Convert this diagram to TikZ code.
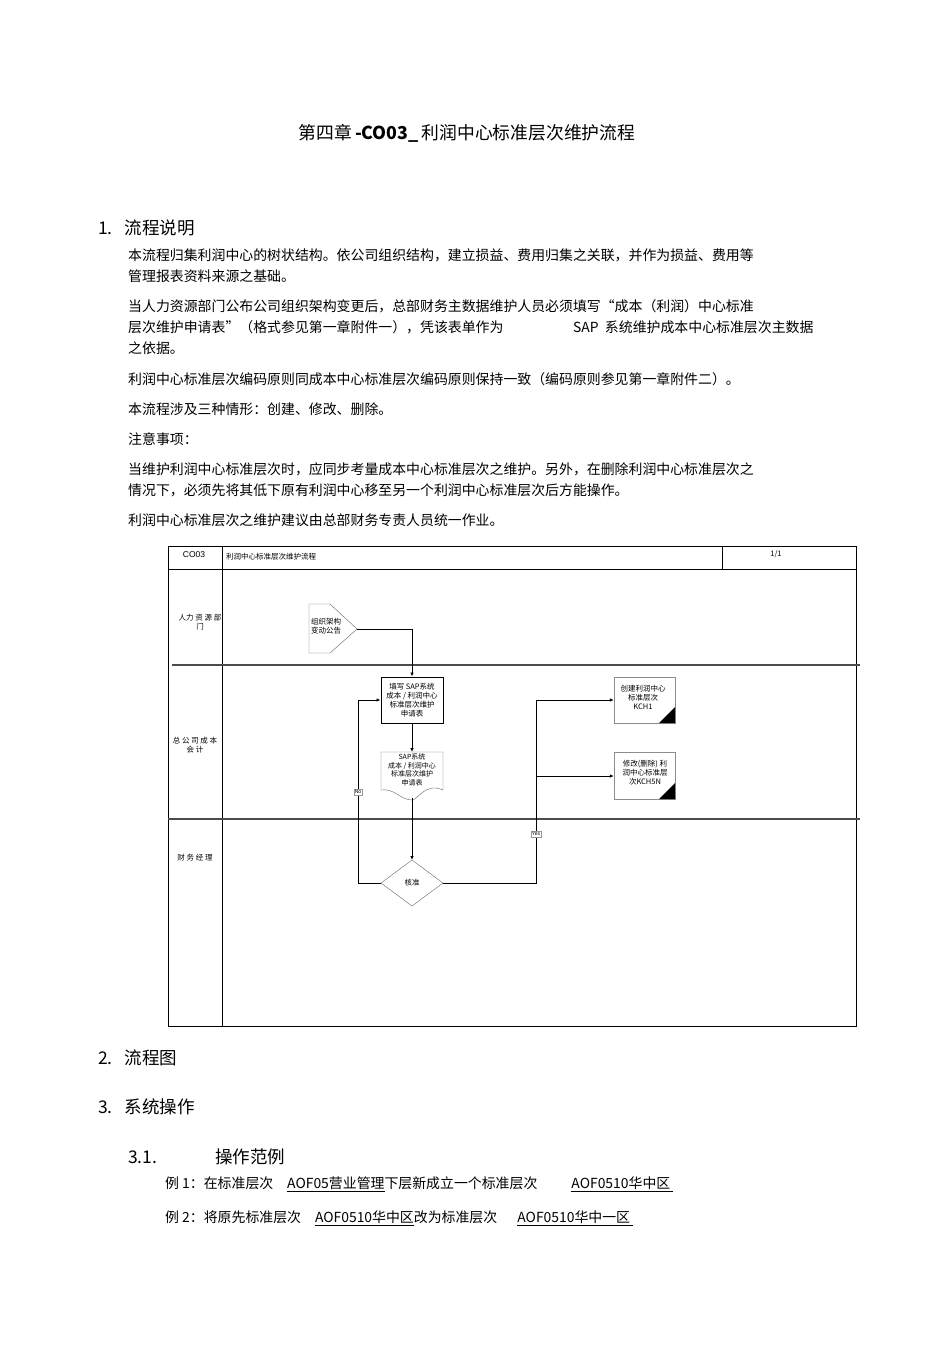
\documentclass[tikz,border=0pt]{standalone}
\usepackage{fontspec}
\setmainfont{Liberation Sans}
\newfontfamily\cjk{Noto Sans CJK SC}
\usetikzlibrary{arrows.meta}
\begin{document}
\begin{tikzpicture}[x=1pt,y=-1pt,font=\cjk,
  tx/.style={anchor=west,inner sep=0pt,font=\cjk\fontsize{13.9}{16}\selectfont},
  hd/.style={anchor=west,inner sep=0pt,font=\cjk\fontsize{17.5}{20}\selectfont},
  sm/.style={font=\cjk\fontsize{7.5}{9}\selectfont,align=center,inner sep=0pt},
  ln/.style={line width=0.8pt},
  arr/.style={line width=0.9pt,-{Latex[length=4pt,width=3.5pt]}}]
\useasboundingbox (0,0) rectangle (950,1345);
\node[inner sep=0pt,font=\cjk\fontsize{17.8}{20}\selectfont] (title) at (467,133) {第四章\,\textbf{-CO03\_}\,利润中心标准层次维护流程};
\node[hd] (h1) at (98,228) {1.\ \ \ 流程说明};
\node[tx] (p1) at (128,255) {本流程归集利润中心的树状结构。依公司组织结构，建立损益、费用归集之关联，并作为损益、费用等};
\node[tx] (p2) at (128,276) {管理报表资料来源之基础。};
\node[tx] (p3) at (128,306) {当人力资源部门公布公司组织架构变更后，总部财务主数据维护人员必须填写“成本（利润）中心标准};
\node[tx] (p4) at (128,327) {层次维护申请表”（格式参见第一章附件一），凭该表单作为};
\node[tx] (p4b) at (573,327) {SAP\ \ 系统维护成本中心标准层次主数据};
\node[tx] (p5) at (128,348) {之依据。};
\node[tx] (p6) at (128,379) {利润中心标准层次编码原则同成本中心标准层次编码原则保持一致（编码原则参见第一章附件二）。};
\node[tx] (p7) at (128,409) {本流程涉及三种情形：创建、修改、删除。};
\node[tx] (p8) at (128,439) {注意事项：};
\node[tx] (p9) at (128,469) {当维护利润中心标准层次时，应同步考量成本中心标准层次之维护。另外，在删除利润中心标准层次之};
\node[tx] (p10) at (128,490) {情况下，必须先将其低下原有利润中心移至另一个利润中心标准层次后方能操作。};
\node[tx] (p11) at (128,520) {利润中心标准层次之维护建议由总部财务专责人员统一作业。};
% frame
\draw[ln] (168,546) rectangle (856,1026);
\draw[ln] (222,546) -- (222,1026);
\draw[ln] (722,546) -- (722,569);
\draw[ln] (168,569) -- (856,569);
\draw[line width=1.2pt,black!70] (172,665) -- (860,665);
\draw[line width=1.2pt,black!70] (168,819) -- (860,819);
\node[sm,font=\fontsize{8.5}{9}\selectfont] (co) at (194,555) {CO03};
\node[sm,anchor=west] (ct) at (226,557) {利润中心标准层次维护流程};
\node[sm] (pg) at (776,554) {1/1};
\node[sm] (l1) at (200,622) {人力 资 源 部\\门};
\node[sm] (l2) at (195,745) {总 公 司 成 本\\会 计};
\node[sm] (l3) at (195,858) {财 务 经 理};
% offpage
\draw[black!60,fill=white] (309,604) -- (330,604) -- (357,629) -- (330,653) -- (309,653) -- cycle;
\coordinate (op) at (357,629);
\node[sm,align=left] (opt) at (326,626) {组织架构\\变动公告};
% process
\node[draw,line width=1pt,minimum width=62pt,minimum height=46pt,inner sep=0pt] (fill) at (412,700) {};
\node[sm] at (fill) {填写 SAP系统\\成本 / 利润中心\\标准层次维护\\申请表};
% document
\draw[black!60,fill=white] (381,752) -- (443,752) -- (443,790) .. controls (425,782) and (418,800) .. (412,800) .. controls (400,800) and (395,788) .. (381,790) -- cycle;
\coordinate (dt) at (412,752); \coordinate (db) at (412,798);
\node[sm,font=\cjk\fontsize{7}{8.5}\selectfont] (doct) at (412,770) {SAP系统\\成本 / 利润中心\\标准层次维护\\申请表};
% diamond
\draw[black!60,fill=white] (412,860) -- (443,883) -- (412,906) -- (381,883) -- cycle;
\coordinate (dtop) at (412,860); \coordinate (dl) at (381,883); \coordinate (dr) at (443,883);
\node[sm] (chk) at (412,883) {核准};
% right boxes
\node[draw=black!45,minimum width=61pt,minimum height=46pt,inner sep=0pt] (b1) at (644.5,700) {};
\fill (675,707) -- (675,723) -- (659,723) -- cycle;
\node[sm] at (643,697) {创建利润中心\\标准层次\\KCH1};
\node[draw=black!45,minimum width=61pt,minimum height=47pt,inner sep=0pt] (b2) at (644.5,776) {};
\fill (675,783) -- (675,799) -- (659,799) -- cycle;
\node[sm] at (645,773) {修改(删除) 利\\润中心标准层\\次KCH5N};
% connectors
\draw[arr] (op) -| (fill.north);
\draw[arr] (fill.south) -- (dt);
\draw[arr] (db) -- (dtop);
\draw[arr] (dl) -- (358,883) -- (358,700) -- (fill.west);
\draw[arr] (dr) -- (536,883) -- (536,700) -- (b1.west);
\draw[arr] (536,776) -- (b2.west);
\node[sm,draw=black!40,fill=white,font=\fontsize{5}{6}\selectfont,inner sep=1pt] (no) at (358,792) {No};
\node[sm,draw=black!40,fill=white,font=\fontsize{5}{6}\selectfont,inner sep=1pt] (yes) at (536,834) {Yes};
% bottom
\node[hd] (h2) at (98,1058) {2.\ \ \ 流程图};
\node[hd] (h3) at (98,1107) {3.\ \ \ 系统操作};
\node[hd] (h31) at (128,1157) {3.1.};
\node[hd] (h31b) at (215,1157) {操作范例};
\node[tx] (e1) at (165,1184) {例 1：在标准层次\quad\underline{AOF05营业管理}下层新成立一个标准层次\qquad\ \ \underline{AOF0510华中区\ }};
\node[tx] (e2) at (165,1218) {例 2：将原先标准层次\quad\underline{AOF0510华中区}改为标准层次\quad\ \ \underline{AOF0510华中一区\ }};
\end{tikzpicture}
\end{document}
